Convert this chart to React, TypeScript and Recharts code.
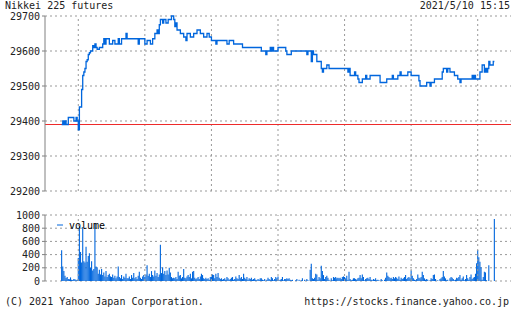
import React from "react";
import {
  ComposedChart,
  Line,
  Bar,
  XAxis,
  YAxis,
  CartesianGrid,
  ReferenceLine,
  Legend,
} from "recharts";

const FONT = '"DejaVu Sans Mono", monospace';
const BLUE = "#0066dd";
const RED = "#ee2a2a";
const AXIS = "#808080";
const GRID = "#999999";
const TEXT = "#222222";

// x axis: 8:30 .. 15:30, tick marks every 30 min, labels + grid on the hour
const timeRange = ["8:30", "15:30"];
const timeTicks = [
  "8:30", "9:00", "9:30", "10:00", "10:30", "11:00", "11:30", "12:00",
  "12:30", "13:00", "13:30", "14:00", "14:30", "15:00", "15:30",
];
const hourLines = ["9:00", "10:00", "11:00", "12:00", "13:00", "14:00", "15:00"];

const priceTicks = [29200, 29300, 29400, 29500, 29600, 29700];
const prevClose = 29390;
const volumeTicks = [0, 200, 400, 600, 800, 1000];

// price changes (step line)
const priceTimes = [
  "8:45", "8:46", "8:47", "8:48", "8:49", "8:51", "8:56", "8:58", "8:59", "9:00",
  "9:01", "9:03", "9:04", "9:05", "9:06", "9:07", "9:08", "9:09", "9:10", "9:11",
  "9:13", "9:14", "9:15", "9:16", "9:17", "9:19", "9:22", "9:23", "9:24", "9:25",
  "9:28", "9:31", "9:33", "9:36", "9:37", "9:39", "9:43", "9:44", "9:54", "9:55",
  "10:00", "10:02", "10:05", "10:07", "10:09", "10:11", "10:12", "10:13", "10:14", "10:16",
  "10:17", "10:19", "10:21", "10:24", "10:26", "10:27", "10:28", "10:29", "10:32", "10:35",
  "10:37", "10:38", "10:41", "10:44", "10:47", "10:50", "10:53", "10:56", "10:58", "11:00",
  "11:04", "11:05", "11:14", "11:16", "11:20", "11:28", "11:45", "11:49", "11:50", "11:53",
  "11:54", "11:55", "11:56", "12:00", "12:07", "12:08", "12:12", "12:26", "12:27", "12:30",
  "12:31", "12:32", "12:35", "12:39", "12:40", "12:41", "12:44", "12:46", "13:03", "13:04",
  "13:05", "13:09", "13:10", "13:12", "13:13", "13:16", "13:19", "13:20", "13:23", "13:32",
  "13:38", "13:43", "13:44", "13:48", "13:50", "13:51", "13:57", "14:00", "14:07", "14:08",
  "14:14", "14:17", "14:18", "14:21", "14:28", "14:29", "14:32", "14:33", "14:35", "14:39",
  "14:42", "14:44", "14:45", "14:55", "14:56", "14:57", "14:58", "15:02", "15:04", "15:06",
  "15:07", "15:08", "15:09", "15:10", "15:11", "15:14", "15:15",
];
const prices = [
  29390, 29400, 29390, 29400, 29390, 29410, 29400, 29410, 29400, 29375,
  29440, 29490, 29530, 29540, 29550, 29570, 29575, 29590, 29595, 29600,
  29615, 29610, 29620, 29610, 29605, 29610, 29620, 29635, 29620, 29635,
  29620, 29630, 29620, 29635, 29620, 29635, 29650, 29635, 29620, 29635,
  29620, 29630, 29620, 29635, 29650, 29660, 29650, 29675, 29690, 29680,
  29690, 29680, 29690, 29700, 29690, 29670, 29680, 29660, 29650, 29640,
  29630, 29650, 29640, 29650, 29660, 29650, 29640, 29650, 29640, 29630,
  29620, 29630, 29620, 29630, 29620, 29610, 29600, 29590, 29600, 29610,
  29600, 29610, 29600, 29610, 29600, 29590, 29600, 29590, 29600, 29570,
  29600, 29590, 29570, 29550, 29540, 29550, 29560, 29550, 29540, 29550,
  29530, 29540, 29530, 29520, 29510, 29520, 29530, 29520, 29530, 29510,
  29520, 29530, 29520, 29530, 29540, 29530, 29540, 29530, 29515, 29500,
  29510, 29500, 29510, 29520, 29540, 29550, 29540, 29550, 29540, 29530,
  29520, 29510, 29520, 29530, 29520, 29530, 29520, 29540, 29560, 29540,
  29550, 29540, 29550, 29570, 29560, 29570, 29570,
];

// one bar per minute from 8:45
const volumeStart = "8:45";
const volumes = [
  465, 220, 150, 80, 45, 60, 30, 25, 55, 20, 15, 30, 25, 10, 20,
  350, 830, 440, 280, 820, 300, 280, 520, 290, 380, 420, 200, 300, 160, 180,
  880, 220, 210, 110, 170, 100, 180, 90, 130, 70, 150, 60, 90, 110, 70,
  60, 100, 50, 80, 40, 70, 220, 60, 40, 90, 30, 70, 50, 110, 40,
  40, 70, 30, 90, 50, 120, 40, 60, 30, 80, 140, 50, 30, 70, 90,
  60, 100, 240, 80, 110, 60, 150, 90, 70, 160, 80, 120, 60, 100, 550,
  120, 210, 110, 150, 90, 160, 100, 200, 130, 60, 40, 50, 40, 60, 30,
  140, 80, 90, 40, 60, 180, 50, 40, 70, 90, 60, 110, 40, 140, 150,
  50, 30, 40, 60, 30, 70, 110, 90, 40, 30, 50, 30, 40, 20, 60,
  70, 100, 90, 40, 110, 60, 120, 50, 30, 40, 20, 30, 40, 20, 60,
  40, 20, 30, 50, 60, 20, 30, 70, 40, 30, 90, 40, 60, 30, 110,
  50, 30, 60, 20, 40, 30, 50, 20, 30, 40, 20, 10, 30, 20, 40,
  40, 20, 10, 30, 0, 20, 50, 30, 20, 60, 40, 10, 30, 60, 40,
  70, 10, 20, 30, 60, 10, 30, 30, 40, 30, 40, 20, 10, 20, 0,
  0, 10, 30, 0, 20, 0, 10, 40, 0, 20, 0, 30, 10, 0, 170,
  260, 40, 30, 50, 110, 100, 20, 60, 40, 230, 150, 90, 30, 60, 80,
  50, 20, 0, 40, 10, 60, 50, 60, 40, 50, 40, 50, 30, 60, 70,
  60, 40, 80, 20, 140, 30, 10, 20, 40, 40, 30, 20, 40, 50, 90,
  40, 100, 60, 10, 30, 40, 50, 30, 60, 20, 10, 30, 20, 40, 10,
  20, 10, 0, 30, 10, 0, 20, 50, 130, 80, 60, 40, 50, 30, 60,
  40, 60, 50, 30, 70, 20, 50, 30, 40, 60, 90, 30, 50, 60, 40,
  160, 80, 40, 20, 10, 30, 100, 50, 40, 60, 140, 90, 40, 20, 30,
  20, 0, 10, 40, 30, 90, 100, 30, 0, 10, 0, 30, 40, 60, 150,
  70, 40, 10, 20, 0, 40, 60, 50, 30, 10, 20, 50, 40, 60, 90,
  20, 40, 70, 10, 30, 90, 40, 20, 60, 100, 30, 50, 60, 110, 270,
  470, 360, 290, 210, 20, 60, 140, 130, 10, 0, 240, 0, 0, 0, 0,
  940,
];

const toMin = (s: string) => {
  const [h, m] = s.split(":").map(Number);
  return h * 60 + m;
};
const fmtMin = (v: number) => `${Math.floor(v / 60)}:${String(v % 60).padStart(2, "0")}`;

const priceData = priceTimes.map((s, i) => ({ t: toMin(s), price: prices[i] }));
const volumeData = volumes.map((v, i) => ({ t: toMin(volumeStart) + i, volume: v }));
const xDomain = timeRange.map(toMin);
const xTicks = timeTicks.map(toMin);

// bottom axis: inward tick mark, label only on the hour
const bottomTick = (labelDy: number) => (props: any) => {
  const { x, y, payload } = props;
  const v = payload.value as number;
  return (
    <g>
      <line x1={x} x2={x} y1={y} y2={y - 4} stroke={AXIS} />
      {v % 60 === 0 && (
        <text x={x} y={y + labelDy} textAnchor="middle" fontFamily={FONT} fontSize={10} fill={TEXT}>
          {fmtMin(v)}
        </text>
      )}
    </g>
  );
};

const topTick = (props: any) => (
  <line x1={props.x} x2={props.x} y1={props.y} y2={props.y + 4} stroke={AXIS} />
);

const yTickStyle = { fontFamily: FONT, fontSize: 10, fill: TEXT };

const Frame = (labelDy: number) => [
  <XAxis
    key="xb"
    dataKey="t"
    type="number"
    domain={xDomain}
    ticks={xTicks}
    interval={0}
    height={0}
    tickSize={0}
    tickMargin={0}
    allowDataOverflow
    axisLine={{ stroke: AXIS }}
    tick={bottomTick(labelDy)}
  />,
  <XAxis
    key="xt"
    xAxisId="top"
    orientation="top"
    type="number"
    domain={xDomain}
    ticks={xTicks}
    interval={0}
    height={0}
    tickSize={0}
    tickMargin={0}
    allowDataOverflow
    axisLine={{ stroke: AXIS }}
    tick={topTick}
  />,
  <YAxis key="yr" yAxisId="r" orientation="right" width={0} tick={false} axisLine={{ stroke: AXIS }} />,
];

const App: React.FC = () => {
  return (
    <div
      style={{
        position: "absolute",
        left: 0,
        top: 0,
        width: 512,
        height: 310,
        background: "#fff",
        overflow: "hidden",
        fontFamily: FONT,
        fontSize: 10,
        lineHeight: "12px",
        color: TEXT,
      }}
    >
      <div style={{ position: "absolute", left: 5, top: 0 }}>Nikkei 225 futures</div>
      <div style={{ position: "absolute", right: 2, top: 0 }}>2021/5/10 15:15</div>

      <div style={{ position: "absolute", left: 0, top: 0 }}>
        <ComposedChart
          width={512}
          height={210}
          data={priceData}
          margin={{ top: 16, right: 1, bottom: 19, left: 0 }}
        >
          <CartesianGrid vertical={false} stroke={GRID} strokeDasharray="2 3" />
          {hourLines.map((h) => (
            <ReferenceLine key={h} x={toMin(h)} stroke={GRID} strokeDasharray="2 3" />
          ))}
          <ReferenceLine y={prevClose} stroke={RED} />
          {Frame(12)}
          <YAxis
            type="number"
            domain={[29200, 29700]}
            ticks={priceTicks}
            interval={0}
            width={45}
            tickSize={3}
            tickMargin={2}
            axisLine={{ stroke: AXIS }}
            tickLine={{ stroke: AXIS }}
            tick={yTickStyle}
          />
          <Line
            dataKey="price"
            type="stepAfter"
            stroke={BLUE}
            strokeWidth={1.3}
            dot={false}
            isAnimationActive={false}
          />
        </ComposedChart>
      </div>

      <div style={{ position: "absolute", left: 0, top: 205 }}>
        <ComposedChart
          width={512}
          height={95}
          data={volumeData}
          margin={{ top: 10, right: 1, bottom: 19, left: 0 }}
        >
          <CartesianGrid vertical={false} stroke={GRID} strokeDasharray="2 3" />
          {hourLines.map((h) => (
            <ReferenceLine key={h} x={toMin(h)} stroke={GRID} strokeDasharray="2 3" />
          ))}
          {Frame(11)}
          <YAxis
            type="number"
            domain={[0, 1000]}
            ticks={volumeTicks}
            interval={0}
            width={45}
            tickSize={3}
            tickMargin={2}
            axisLine={{ stroke: AXIS }}
            tickLine={{ stroke: AXIS }}
            tick={yTickStyle}
          />
          <Legend
            layout="horizontal"
            verticalAlign="middle"
            align="center"
            wrapperStyle={{ top: 14, left: 55, width: 60, height: 12 }}
            content={() => (
              <svg width={60} height={12} style={{ display: "block" }}>
                <line x1={2} x2={8} y1={6} y2={6} stroke={BLUE} />
                <text x={14} y={10} fontFamily={FONT} fontSize={10} fill="#000">
                  volume
                </text>
              </svg>
            )}
          />
          <Bar dataKey="volume" fill={BLUE} barSize={1.1} isAnimationActive={false} />
        </ComposedChart>
      </div>

      <div style={{ position: "absolute", left: 5, top: 296 }}>(C) 2021 Yahoo Japan Corporation.</div>
      <div style={{ position: "absolute", right: 3, top: 296 }}>https://stocks.finance.yahoo.co.jp</div>
    </div>
  );
};

export default App;
